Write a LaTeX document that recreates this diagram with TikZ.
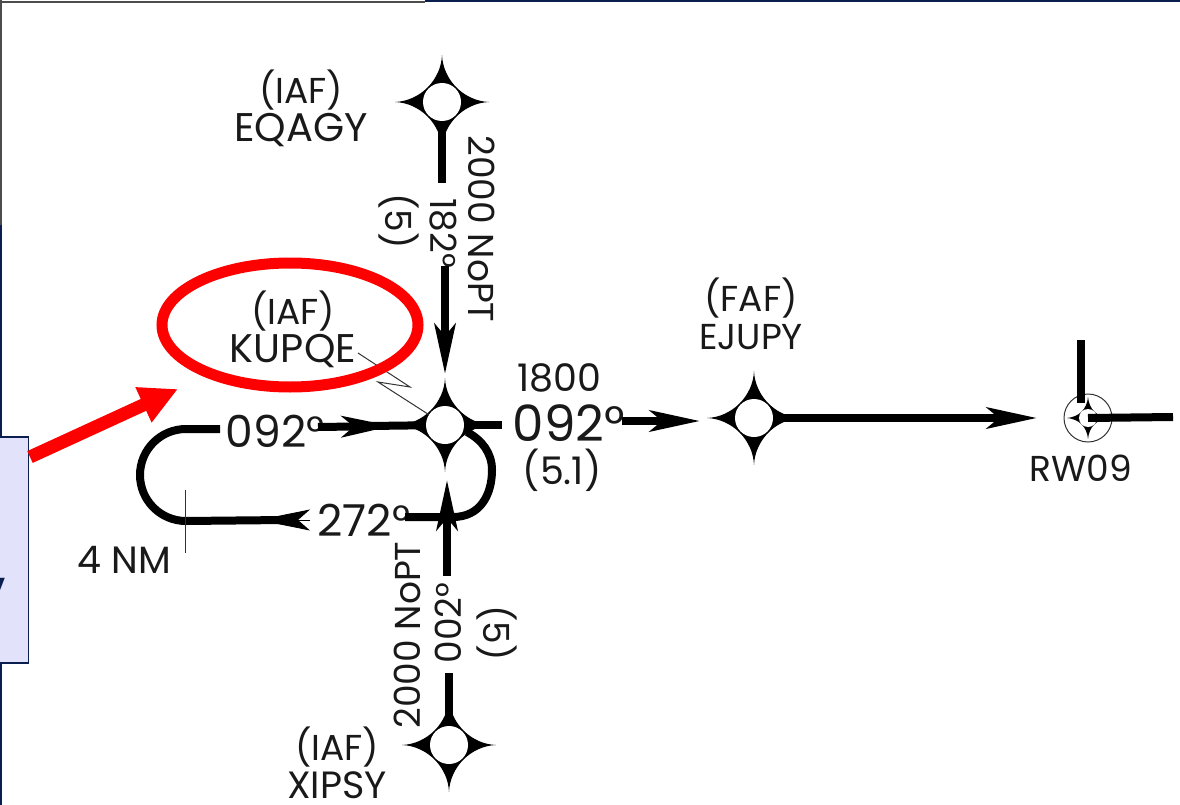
\documentclass[tikz,border=0pt]{standalone}
\usepackage{fontspec}
\setmainfont{Poppins}
\usepackage{xcolor}
\usetikzlibrary{positioning, arrows.meta, shapes.geometric}
\definecolor{navy}{RGB}{10,30,80}
\definecolor{lavbox}{RGB}{226,226,250}
\newcommand{\fixpt}[2]{\pic at (#2) {fixstar}; \node[fixpt] (#1) at (#2) {};}
\newcommand{\iaf}[1]{{\fontsize{36}{38}\selectfont #1}}
\begin{document}
\begin{tikzpicture}[
  x=1pt, y=-1pt,
  fixstar/.pic={\fill[black] (-47,0) .. controls (-22,-1) and (-1,-22) .. (0,-47)
      .. controls (1,-22) and (22,-1) .. (47,0)
      .. controls (22,1) and (1,22) .. (0,47)
      .. controls (-1,22) and (-22,1) .. (-47,0) -- cycle;},
  rwstar/.pic={\fill[black] (-21,0) .. controls (-9,-1) and (-1,-9) .. (0,-21)
      .. controls (1,-9) and (9,-1) .. (21,0)
      .. controls (9,1) and (1,9) .. (0,21)
      .. controls (-1,9) and (-9,1) .. (-21,0) -- cycle;},
  fixpt/.style={circle, fill=white, inner sep=0pt, minimum size=38pt},
  lbl/.style={font=\fontsize{38}{38}\selectfont, align=center, inner sep=0pt, text=black!90},
  big/.style={font=\fontsize{40}{38}\selectfont, align=center, inner sep=0pt, text=black!90},
  rot/.style={font=\fontsize{36}{38}\selectfont, inner sep=0pt, text=black!90},
  crs/.style={font=\fontsize{44}{50}\selectfont, inner sep=0pt, text=black!90},
  leg/.style={line width=8pt, black},
  legh/.style={line width=8pt, black, -{Stealth[length=50pt, width=21pt, inset=12pt]}},
  thinl/.style={line width=1pt, black!80}]
\useasboundingbox (0,0) rectangle (1180,805);
% frame
\draw[line width=2.5pt, black!70] (0,2) -- (425,2);
\fill[navy] (425,0) rectangle (1180,2.5);
\draw[line width=2.5pt, black!70] (1,0) -- (1,225);
\draw[line width=2.5pt, navy] (1,225) -- (1,805);
% fixes
\fixpt{eqagy}{442,102}
\fixpt{kupqe}{445,425}
\fixpt{ejupy}{754,418}
\fixpt{xipsy}{449,745}
\node[big] (lbleqagy) at (301,108) {\iaf{(IAF)}\\EQAGY};
\node[big] (lblkupqe) at (293,329) {\iaf{(IAF)}\\KUPQE};
\node[rot, align=center] (lblejupy) at (751,314) {(FAF)\\EJUPY};
\node[lbl] (lblxipsy) at (337,763) {\iaf{(IAF)}\\XIPSY};
\node[rot] (lblrw) at (1081,468) {RW09};
\node[lbl] (lblnm) at (124,560) {4 NM};
% runway
\pic at (1088,418) {rwstar};
\node[circle, draw=black!80, line width=1pt, inner sep=0pt, minimum size=48pt] (rwring) at (1088,418) {};
\node[circle, fill=white, inner sep=0pt, minimum size=18pt] (rw) at (1088,418) {};
\coordinate (rwup) at (1081,340);
\coordinate (rwupend) at (1081,403);
\coordinate (rwright) at (1173,417);
\draw[leg] (rwup) -- (rwupend);
\draw[leg] (rw.center) -- (rwright);
% altitude and course texts
\node[rot, rotate=-90] (alteq) at (482,229) {2000 NoPT};
\node[rot, rotate=-90] (dist5a) at (399,221) {(5)};
\node[rot, rotate=-90] (crs182) at (443,233) {182°};
\node[rot, rotate=90] (altxi) at (407,635) {2000 NoPT};
\node[rot, rotate=90] (crs002) at (448,623) {002°};
\node[rot, rotate=-90] (dist5b) at (497,633) {(5)};
\node[crs] (crsl) at (275,431) {092°};
\node[crs] (crsh) at (364,520) {272°};
\node[lbl] (alt18) at (559,378) {1800};
\node[crs, font=\fontsize{50}{58}\selectfont] (crsfaf) at (569,423) {092°};
\node[lbl] (dist51) at (562,470) {(5.1)};
% tracks
\coordinate (a1) at (442,183);
\coordinate (a2) at (445,266);
\coordinate (a3) at (445,374);
\draw[leg] (eqagy) -- (a1);
\draw[legh] (a2) -- (a3);
\coordinate (b1) at (449,673);
\coordinate (b2) at (447,576);
\coordinate (b3) at (447,480);
\draw[leg] (xipsy) -- (b1);
\draw[legh] (b2) -- (b3);
\coordinate (c1) at (318,427);
\coordinate (c2) at (392,426);
\coordinate (c3) at (370,426);
\draw[legh] (c1) -- (c2);
\draw[leg] (c3) -- (kupqe);
\coordinate (d1) at (502,425);
\draw[leg] (kupqe) -- (d1);
\coordinate (e1) at (622,421);
\coordinate (e2) at (700,421);
\draw[legh] (e1) -- (e2);
\coordinate (f1) at (1037,418);
\draw[legh] (ejupy) -- (f1);
% holding pattern
\coordinate (h1) at (220,429);
\coordinate (h2) at (186,429);
\coordinate (h3) at (186,521);
\coordinate (h4) at (285,520);
\coordinate (h5) at (310,520);
\coordinate (h6) at (258,520);
\draw[leg] (h1) -- (h2) arc[start angle=-90, end angle=-270, radius=46];
\draw[leg] (h3) -- (h4);
\draw[black, line width=1pt, fill=black, -{Stealth[length=52pt, width=21pt, inset=12pt]}] (h5) -- (h6);
\coordinate (g1) at (405,517);
\coordinate (g2) at (453,517);
\coordinate (g3) at (467,432);
\draw[leg] (g1) -- (g2) .. controls (480,517) and (492,495) .. (492,470) .. controls (492,453) and (482,440) .. (g3);
\coordinate (tk1) at (185,490);
\coordinate (tk2) at (185,553);
\draw[thinl] (tk1) -- (tk2);
% feeder mark
\coordinate (z1) at (358,353);
\coordinate (z2) at (410,387);
\coordinate (z3) at (378,382);
\draw[thinl] (z1) -- (z2) -- (z3) -- (kupqe);
% callout
\node[ellipse, draw=red, line width=11pt, inner sep=0pt, minimum width=256pt, minimum height=124pt] (hilite) at (290,325) {};
\node[rectangle, draw=navy, fill=lavbox, line width=1.5pt, inner sep=0pt, minimum width=58pt, minimum height=226pt, anchor=east] (infobox) at (29,550) {};
\node[font=\fontsize{52}{52}\selectfont\bfseries, text=navy, inner sep=0pt, anchor=east] (clip) at (8,586) {,};
\coordinate (redtail) at (30,457);
\coordinate (redtip) at (178,389);
\draw[red, line width=13pt, -{Triangle[length=38pt, width=36pt]}] (redtail) -- (redtip);
\end{tikzpicture}
\end{document}
